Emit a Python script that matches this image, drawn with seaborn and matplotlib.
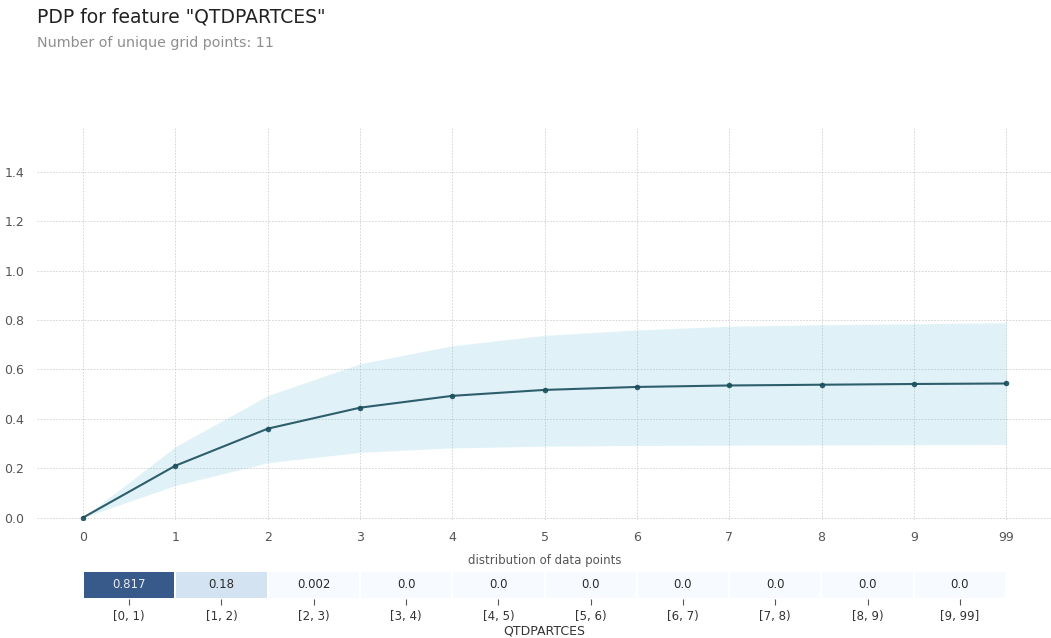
import numpy as np
import matplotlib
matplotlib.use("Agg")
import matplotlib.pyplot as plt
from matplotlib.colors import LinearSegmentedColormap
import seaborn as sns
import pandas as pd

# ---- data ----
grid_labels = ["0", "1", "2", "3", "4", "5", "6", "7", "8", "9", "99"]
pdp_values = [0.0, 0.21, 0.36, 0.445, 0.493, 0.517, 0.529, 0.535, 0.538, 0.541, 0.543]
pdp_upper = [0.0, 0.287, 0.494, 0.623, 0.696, 0.738, 0.760, 0.775, 0.781, 0.785, 0.789]
pdp_lower = [0.0, 0.130, 0.222, 0.264, 0.282, 0.289, 0.292, 0.293, 0.294, 0.295, 0.296]
dist_labels = ["[0, 1)", "[1, 2)", "[2, 3)", "[3, 4)", "[4, 5)", "[5, 6)",
               "[6, 7)", "[7, 8)", "[8, 9)", "[9, 99]"]
dist_values = [0.817, 0.18, 0.002, 0.0, 0.0, 0.0, 0.0, 0.0, 0.0, 0.0]
feature_name = "QTDPARTCES"

sns.set_style("white")
plt.rcParams["font.family"] = ["DejaVu Sans"]

fig = plt.figure(figsize=(10.51, 6.38), dpi=100)

fig.text(0.0352, 1 - 17 / 638, f'PDP for feature "{feature_name}"', fontsize=13.5,
         color="#222222", va="center", ha="left")
fig.text(0.0352, 1 - 43 / 638, f"Number of unique grid points: {len(grid_labels)}",
         fontsize=10.3, color="#8E8E8E", va="center", ha="left")

# ---- main PDP axes ----
ax = fig.add_axes([0.0352, 1 - 520 / 638, 0.966, (520 - 128) / 638])
df = pd.DataFrame({"x": np.arange(len(grid_labels)), "pdp": pdp_values})
ax.fill_between(df["x"], pdp_lower, pdp_upper, color="#66C2D7", alpha=0.2, linewidth=0)
sns.lineplot(data=df, x="x", y="pdp", ax=ax, color="#1A4E5D", linewidth=1.5,
             marker="o", markersize=4, markeredgewidth=0, alpha=0.9)
ax.set_xlim(-0.5, len(grid_labels) - 0.5)
ax.set_ylim(-0.01, 1.578)
ax.set_xticks(df["x"])
ax.set_xticklabels(grid_labels)
ax.set_yticks([0.0, 0.2, 0.4, 0.6, 0.8, 1.0, 1.2, 1.4])
ax.set_yticklabels([f"{v:.1f}" for v in [0.0, 0.2, 0.4, 0.6, 0.8, 1.0, 1.2, 1.4]])
ax.set_xlabel("")
ax.set_ylabel("")
for s in ax.spines.values():
    s.set_visible(False)
ax.grid(True, linestyle=(0, (2.5, 2)), color="#C8C8C8", linewidth=0.5)
ax.set_axisbelow(True)
ax.tick_params(axis="both", labelsize=9, labelcolor="#555555", colors="#9E9E9E")
ax.tick_params(axis="x", length=0, pad=8)
ax.tick_params(axis="y", length=3, pad=6, labelcolor="#555555")

# ---- distribution axes ----
ax2 = fig.add_axes([83 / 1051, 1 - 599 / 638, 923 / 1051, 28 / 638])
cmap = LinearSegmentedColormap.from_list(
    "dist", [(0.0, "#F7FBFF"), (0.18, "#D3E3F2"), (0.817, "#385A8A"), (1.0, "#2C4A78")])
annot = np.array([[str(v) for v in dist_values]])
sns.heatmap(np.array([dist_values]), ax=ax2, cmap=cmap, vmin=0, vmax=1, cbar=False,
            annot=annot, fmt="", annot_kws={"fontsize": 8.5},
            linewidths=1.2, linecolor="white",
            xticklabels=dist_labels, yticklabels=False)
for t, v in zip(ax2.texts, dist_values):
    t.set_color("#E8ECF2" if v > 0.5 else "#2A2A2A")
ax2.set_xticklabels(dist_labels, rotation=0)
ax2.tick_params(axis="x", bottom=True, length=4, width=0.8, color="#555555",
                labelsize=8.5, labelcolor="#333333", pad=4)
ax2.tick_params(axis="y", left=False)
ax2.set_xlabel(feature_name, fontsize=9, color="#333333", labelpad=1)
ax2.set_ylabel("")
ax2.set_title("distribution of data points", fontsize=8.5, color="#555555", pad=5)

fig.savefig("out.png", dpi=100)
